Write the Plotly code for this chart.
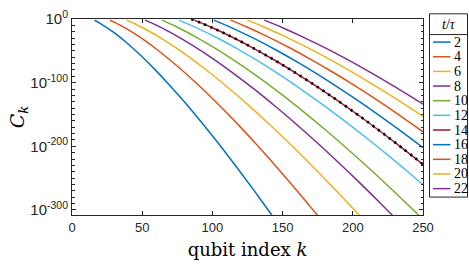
import plotly.graph_objects as go

# ---------------- data ----------------
t_values = [2, 4, 6, 8, 10, 12, 14, 16, 18, 20, 22]
line_colors = ["#0072BD", "#D95319", "#EDB120", "#7E2F8E", "#77AC30", "#4DBEEE",
               "#A2142F", "#0072BD", "#D95319", "#EDB120", "#7E2F8E"]

# qubit index k and log10(C_k) for each t/tau
k_t02 = [16, 20, 30, 40, 50, 60, 70, 80, 90, 100, 110, 120, 130, 140, 145]
lc_t02 = [-2.0, -6.7, -21.4, -39.2, -59.4, -81.5, -105.2, -130.2, -156.4, -183.6, -211.7, -240.7, -270.5, -301.0, -316.5]

k_t04 = [27, 30, 40, 50, 60, 70, 80, 90, 100, 110, 120, 130, 140, 150, 160, 170, 177]
lc_t04 = [-2.0, -4.9, -16.8, -31.0, -47.1, -64.8, -83.6, -103.7, -124.8, -146.9, -169.9, -193.6, -218.2, -243.4, -269.1, -295.6, -314.0]

k_t06 = [39, 45, 55, 65, 75, 85, 95, 110, 125, 140, 155, 170, 185, 200, 208]
lc_t06 = [-1.8, -7.8, -19.2, -32.3, -46.7, -62.3, -79.0, -105.7, -134.2, -164.2, -195.7, -228.6, -262.5, -297.5, -316.5]

k_t08 = [52, 60, 70, 85, 100, 115, 130, 145, 160, 175, 190, 205, 220, 230]
lc_t08 = [-1.8, -9.7, -21.0, -40.2, -61.7, -85.3, -110.6, -137.5, -165.7, -195.2, -225.8, -257.5, -290.2, -312.6]

k_t10 = [64, 75, 90, 105, 120, 135, 150, 165, 180, 195, 210, 225, 240, 250]
lc_t10 = [-1.8, -12.9, -30.3, -50.0, -71.6, -94.9, -119.7, -145.9, -173.3, -201.9, -231.4, -262.0, -293.4, -314.9]

k_t12 = [76, 90, 105, 120, 135, 150, 165, 180, 195, 210, 225, 240, 250]
lc_t12 = [-1.8, -15.1, -31.4, -49.6, -69.4, -90.7, -113.2, -136.9, -161.7, -187.4, -214.0, -241.6, -260.4]

k_t14 = [87, 100, 115, 130, 145, 160, 175, 190, 205, 220, 235, 250]
lc_t14 = [-1.8, -13.8, -29.4, -46.8, -65.6, -85.7, -107.0, -129.4, -152.8, -177.2, -202.4, -228.4]

k_t16 = [101, 115, 130, 145, 160, 175, 190, 205, 220, 235, 250]
lc_t16 = [-1.8, -15.0, -30.9, -48.3, -67.1, -87.0, -108.1, -130.2, -153.4, -177.3, -202.2]

k_t18 = [113, 125, 140, 155, 170, 185, 200, 215, 230, 250]
lc_t18 = [-1.8, -13.0, -28.4, -45.2, -63.3, -82.5, -102.8, -124.1, -146.3, -177.2]

k_t20 = [125, 135, 150, 165, 180, 195, 210, 225, 240, 250]
lc_t20 = [-1.8, -10.9, -25.7, -41.9, -59.2, -77.7, -97.1, -117.4, -138.6, -153.2]

k_t22 = [137, 150, 165, 180, 195, 210, 225, 240, 250]
lc_t22 = [-1.8, -13.7, -28.8, -45.0, -62.3, -80.6, -99.8, -119.9, -133.8]

# black dotted reference curve lying on the t/tau = 14 curve
k_ref = [85, 100, 115, 130, 145, 160, 175, 190, 205, 220, 235, 250]
lc_ref = [0.0, -13.8, -29.4, -46.8, -65.6, -85.7, -107.0, -129.4, -152.8, -177.2, -202.4, -228.4]

y_tick_exps = [0, -100, -200, -300]
x_ticks = [0, 50, 100, 150, 200, 250]

series = [(k_t02, lc_t02), (k_t04, lc_t04), (k_t06, lc_t06), (k_t08, lc_t08),
          (k_t10, lc_t10), (k_t12, lc_t12), (k_t14, lc_t14), (k_t16, lc_t16),
          (k_t18, lc_t18), (k_t20, lc_t20), (k_t22, lc_t22)]

# ---------------- figure ----------------
W, H = 469, 264
L, R, T, B = 72, 46, 8, 48
PW, PH = W - L - R, H - T - B
AX = "#262626"

def px_x(px):
    return (px - L) / PW

def px_y(py):
    return (H - B - py) / PH

fig = go.Figure()
for (kk, lc), tv, col in zip(series, t_values, line_colors):
    fig.add_trace(go.Scatter(
        x=kk, y=[10.0 ** v for v in lc], mode="lines",
        line=dict(color=col, width=1.5, shape="spline", smoothing=1.0),
        name=str(tv), showlegend=False, hoverinfo="skip"))

fig.add_trace(go.Scatter(
    x=k_ref, y=[10.0 ** v for v in lc_ref], mode="lines",
    line=dict(color="black", width=2.6, dash="2.2px,4.6px", shape="spline", smoothing=1.0),
    showlegend=False, hoverinfo="skip"))

minor_vals = [10.0 ** (-e) for e in range(0, 310, 10) if e % 100 != 0]

fig.update_layout(
    width=W, height=H,
    margin=dict(l=L, r=R, t=T, b=B, pad=0),
    paper_bgcolor="white", plot_bgcolor="white",
    xaxis=dict(
        range=[0, 250], tickmode="array", tickvals=x_ticks,
        ticktext=[str(v) for v in x_ticks],
        ticks="inside", ticklen=4, tickwidth=1, tickcolor=AX,
        showline=True, linecolor=AX, linewidth=1, mirror="ticks",
        showgrid=False, zeroline=False,
        tickfont=dict(family="Liberation Sans", size=13, color=AX),
        title=dict(text="qubit index <i>k</i>", standoff=9,
                   font=dict(family="DejaVu Serif", size=18, color="black")),
    ),
    yaxis=dict(
        type="log", range=[-308, 0.02], tickmode="array",
        tickvals=[10.0 ** e for e in y_tick_exps],
        ticktext=["10<sup>%d</sup>" % e for e in y_tick_exps],
        ticklabeloverflow="allow",
        ticks="inside", ticklen=4, tickwidth=1, tickcolor=AX,
        minor=dict(tickmode="array", tickvals=minor_vals, ticks="inside",
                   ticklen=2.5, tickcolor=AX, showgrid=False),
        showline=True, linecolor=AX, linewidth=1, mirror="ticks",
        showgrid=False, zeroline=False,
        tickfont=dict(family="Liberation Sans", size=15, color=AX),
        title=dict(text="<i>C</i><sub><i>k</i></sub>", standoff=0,
                   font=dict(family="DejaVu Serif", size=19, color="black")),
    ),
)

# ---------------- legend box (drawn by hand to match spacing) ----------------
bx0, bx1, by0, by1 = 429.5, 467.5, 2.5, 197.0
sep_y = 24.5
shapes = [
    dict(type="rect", xref="paper", yref="paper",
         x0=px_x(bx0), x1=px_x(bx1), y0=px_y(by1), y1=px_y(by0),
         line=dict(color=AX, width=1), fillcolor="white", layer="above"),
    dict(type="line", xref="paper", yref="paper",
         x0=px_x(bx0), x1=px_x(bx1), y0=px_y(sep_y), y1=px_y(sep_y),
         line=dict(color=AX, width=1), layer="above"),
]
annotations = [
    dict(text="<i>t</i>/<i>τ</i>", xref="paper", yref="paper",
         x=px_x((bx0 + bx1) / 2), y=px_y(14), xanchor="center", yanchor="middle",
         showarrow=False, font=dict(family="Liberation Serif", size=14, color="black")),
]
y0_item, dy_item = 32.5, 15.55
for i, (tv, col) in enumerate(zip(t_values, line_colors)):
    yy = y0_item + i * dy_item
    shapes.append(dict(type="line", xref="paper", yref="paper",
                       x0=px_x(433), x1=px_x(450.5), y0=px_y(yy), y1=px_y(yy),
                       line=dict(color=col, width=1.5), layer="above"))
    annotations.append(dict(text=str(tv), xref="paper", yref="paper",
                            x=px_x(451.5), y=px_y(yy), xanchor="left", yanchor="middle",
                            showarrow=False,
                            font=dict(family="Liberation Serif", size=14, color="black")))
fig.update_layout(shapes=shapes, annotations=annotations)

fig.write_html("out.html",
               config={"displayModeBar": False, "staticPlot": True},
               post_script="document.body.style.margin='0';document.body.style.overflow='hidden';")
